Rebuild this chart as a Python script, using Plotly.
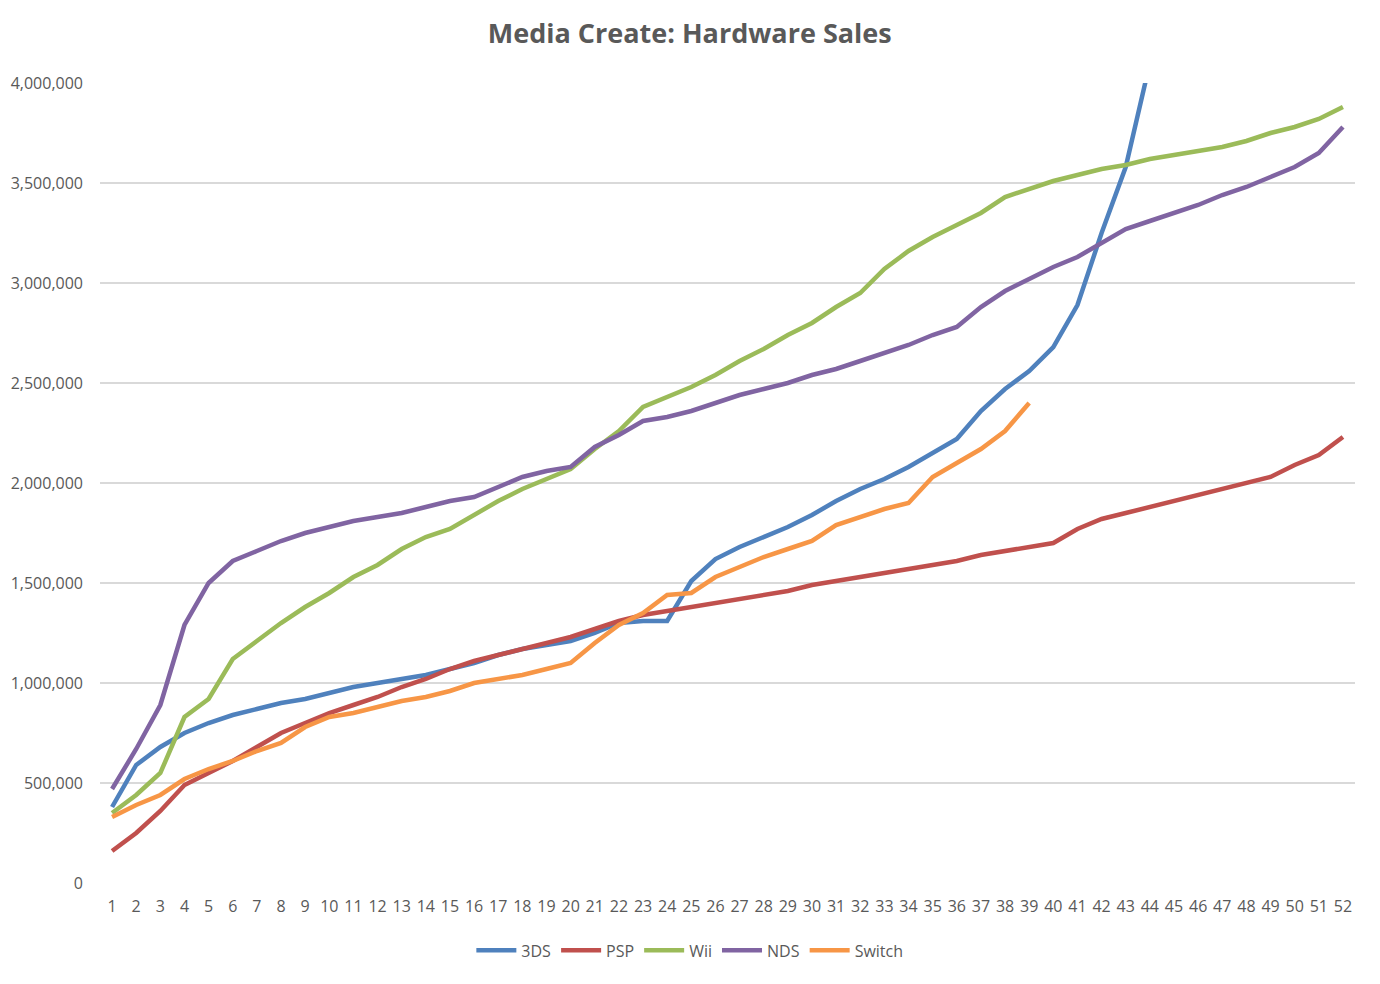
import plotly.graph_objects as go

# weeks since launch
weeks = list(range(1, 53))

# cumulative units sold
ds3 = [380000, 590000, 680000, 750000, 800000, 840000, 870000, 900000, 920000, 950000,
       980000, 1000000, 1020000, 1040000, 1070000, 1100000, 1140000, 1170000, 1190000, 1210000,
       1250000, 1300000, 1310000, 1310000, 1510000, 1620000, 1680000, 1730000, 1780000, 1840000,
       1910000, 1970000, 2020000, 2080000, 2150000, 2220000, 2360000, 2470000, 2560000, 2680000,
       2890000, 3250000, 3580000, 4100000]
psp = [160000, 250000, 360000, 490000, 550000, 610000, 680000, 750000, 800000, 850000,
       890000, 930000, 980000, 1020000, 1070000, 1110000, 1140000, 1170000, 1200000, 1230000,
       1270000, 1310000, 1340000, 1360000, 1380000, 1400000, 1420000, 1440000, 1460000, 1490000,
       1510000, 1530000, 1550000, 1570000, 1590000, 1610000, 1640000, 1660000, 1680000, 1700000,
       1770000, 1820000, 1850000, 1880000, 1910000, 1940000, 1970000, 2000000, 2030000, 2090000,
       2140000, 2230000]
wii = [350000, 440000, 550000, 830000, 920000, 1120000, 1210000, 1300000, 1380000, 1450000,
       1530000, 1590000, 1670000, 1730000, 1770000, 1840000, 1910000, 1970000, 2020000, 2070000,
       2170000, 2260000, 2380000, 2430000, 2480000, 2540000, 2610000, 2670000, 2740000, 2800000,
       2880000, 2950000, 3070000, 3160000, 3230000, 3290000, 3350000, 3430000, 3470000, 3510000,
       3540000, 3570000, 3590000, 3620000, 3640000, 3660000, 3680000, 3710000, 3750000, 3780000,
       3820000, 3880000]
nds = [470000, 670000, 890000, 1290000, 1500000, 1610000, 1660000, 1710000, 1750000, 1780000,
       1810000, 1830000, 1850000, 1880000, 1910000, 1930000, 1980000, 2030000, 2060000, 2080000,
       2180000, 2240000, 2310000, 2330000, 2360000, 2400000, 2440000, 2470000, 2500000, 2540000,
       2570000, 2610000, 2650000, 2690000, 2740000, 2780000, 2880000, 2960000, 3020000, 3080000,
       3130000, 3200000, 3270000, 3310000, 3350000, 3390000, 3440000, 3480000, 3530000, 3580000,
       3650000, 3780000]
switch = [330000, 390000, 440000, 520000, 570000, 610000, 660000, 700000, 780000, 830000,
          850000, 880000, 910000, 930000, 960000, 1000000, 1020000, 1040000, 1070000, 1100000,
          1200000, 1290000, 1350000, 1440000, 1450000, 1530000, 1580000, 1630000, 1670000, 1710000,
          1790000, 1830000, 1870000, 1900000, 2030000, 2100000, 2170000, 2260000, 2400000]

y_ticks = [0, 500000, 1000000, 1500000, 2000000, 2500000, 3000000, 3500000, 4000000]

series = [
    ("3DS", ds3, "#4F81BD"),
    ("PSP", psp, "#C0504D"),
    ("Wii", wii, "#9BBB59"),
    ("NDS", nds, "#8064A2"),
    ("Switch", switch, "#F79646"),
]

fig = go.Figure()
for name, vals, color in series:
    fig.add_trace(go.Scatter(x=weeks[:len(vals)], y=vals, name=name, mode="lines",
                             line=dict(color=color, width=4.5)))

fig.update_layout(
    width=1380, height=984,
    paper_bgcolor="white", plot_bgcolor="white",
    margin=dict(l=92, r=33, t=75, b=109),
    font=dict(family="Open Sans, sans-serif", color="#595959", size=16),
    title=dict(text="<b>Media Create: Hardware Sales</b>", x=0.494, xanchor="center",
               y=0.974, yanchor="middle", font=dict(size=27, color="#595959")),
    legend=dict(orientation="h", x=0.47, xanchor="center",
                y=-0.063, yanchor="top",
                font=dict(size=16, color="#595959"), itemwidth=40, tracegroupgap=0),
    showlegend=True,
)
fig.update_xaxes(range=[0.5, 52.5], tickmode="array", tickvals=weeks,
                 ticktext=[str(w) for w in weeks], showgrid=False, zeroline=False,
                 showline=False, ticks="", ticklabelstandoff=12, tickangle=0,
                 tickfont=dict(size=16), automargin=False)
fig.update_yaxes(range=[0, 4000000], tickmode="array", tickvals=y_ticks,
                 ticktext=[f"{v:,}" for v in y_ticks], showgrid=True,
                 gridcolor="#D9D9D9", gridwidth=2, zeroline=False, showline=False,
                 ticks="", ticklabelstandoff=16, tickfont=dict(size=16),
                 automargin=False)

fig.write_html("out.html")
